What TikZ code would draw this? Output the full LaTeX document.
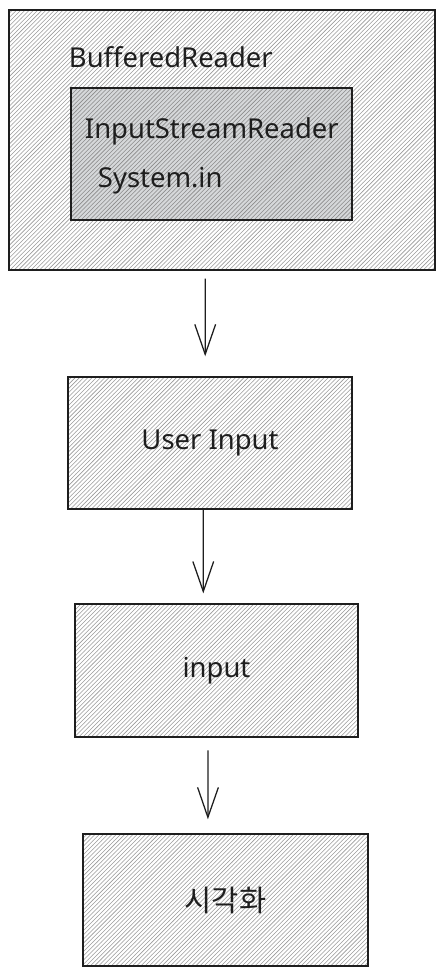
\documentclass[tikz,border=0pt]{standalone}
\usepackage{fontspec}
\setmainfont{Noto Sans}
\newfontfamily\krfont{Noto Sans CJK KR}
\usepackage{tikz}
\usetikzlibrary{arrows.meta,patterns}
\definecolor{ink}{HTML}{1E1E1E}
\definecolor{hatch}{HTML}{9A9A9A}
\definecolor{shade}{HTML}{D6D8DA}

\begin{document}
\begin{tikzpicture}[x=0.025cm,y=-0.025cm,box/.style={draw=ink,line width=1pt,pattern=north east lines,pattern color=hatch,minimum width=#1},inbox/.style={draw=ink,line width=1pt,preaction={fill=shade},pattern=north east lines,pattern color=hatch!90!black},label/.style={font=\fontsize{19.5}{23}\selectfont,text=ink},flow/.style={draw=ink,line width=0.9pt,-{Straight Barb[length=0.75cm,width=0.52cm,line width=0.9pt]}}]
\useasboundingbox (0,0) rectangle (444,976);
\node[box=10.65cm,minimum height=6.5cm] (buffered) at (222,140) {};
\node[inbox,minimum width=7.02cm,minimum height=3.3cm] (isr) at (211.5,154) {};
\node[label,anchor=west] (bufname) at (64,57) {BufferedReader};
\node[label,anchor=west] (isrname) at (80,131) {InputStreamReader};
\node[label,anchor=west] (sysin) at (93,181) {System.in};
\node[box=7.1cm,minimum height=3.3cm,label] (userin) at (210,443) {User Input};
\node[box=7.08cm,minimum height=3.32cm,label] (input) at (216.5,670.5) {input};
\node[box=7.12cm,minimum height=3.3cm,label,font=\fontsize{21}{24}\selectfont] (visual) at (225.5,900) {\krfont 시각화};
\draw[flow] ([xshift=-0.42cm,yshift=-0.2cm]buffered.south) -- ([xshift=-0.12cm,yshift=0.5cm]userin.north);
\draw[flow] ([xshift=-0.17cm,yshift=0.03cm]userin.south) -- ([xshift=-0.33cm,yshift=0.25cm]input.north);
\draw[flow] ([xshift=-0.21cm,yshift=-0.32cm]input.south) -- ([xshift=-0.44cm,yshift=0.35cm]visual.north);
\end{tikzpicture}
\end{document}
